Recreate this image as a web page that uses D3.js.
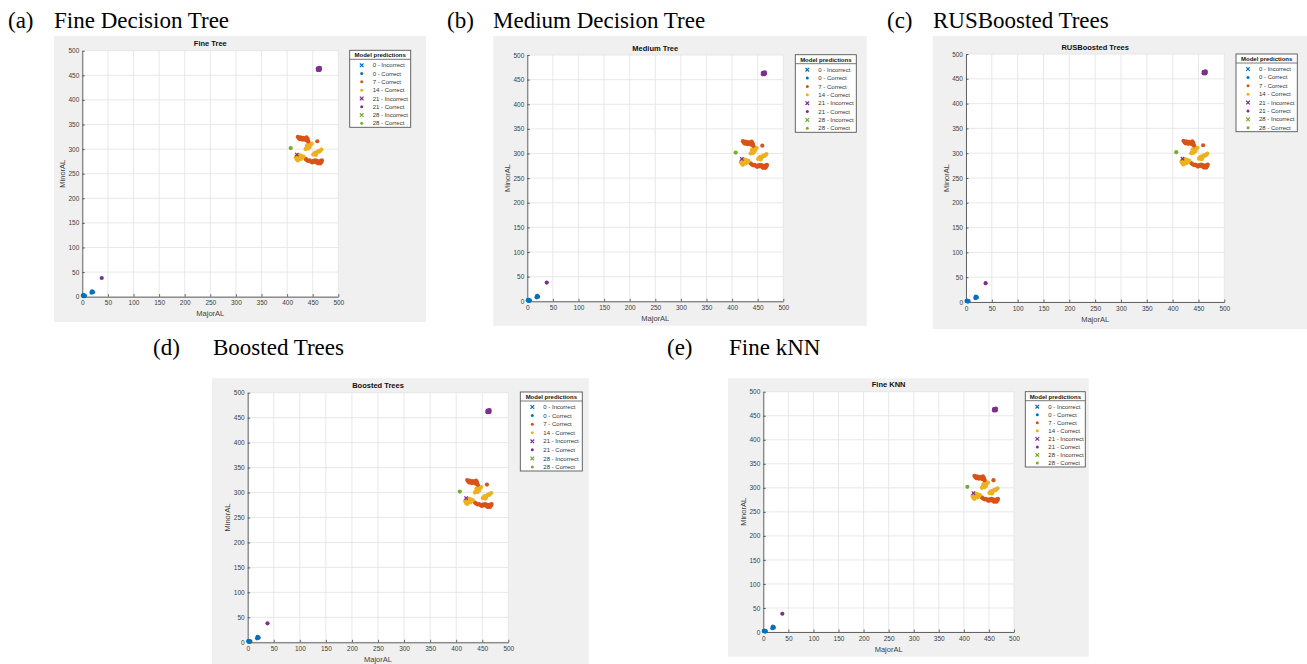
<!DOCTYPE html>
<html>
<head>
<meta charset="utf-8">
<script src="https://cdn.jsdelivr.net/npm/d3@7"></script>
<style>
  body { margin: 0; background: #fff; }
  svg { display: block; }
</style>
</head>
<body>
<svg id="fig" width="1307" height="664"></svg>
<script>
// ---- data ----
var tickValues = [0, 50, 100, 150, 200, 250, 300, 350, 400, 450, 500]
var xLabel = "MajorAL",
    yLabel = "MinorAL"

var classNames = ["0 - Incorrect", "0 - Correct", "7 - Correct", "14 - Correct",
                  "21 - Incorrect", "21 - Correct", "28 - Incorrect", "28 - Correct"]
var classColors = ["#0072BD", "#0072BD", "#D95319", "#EDB120",
                   "#7E2F8E", "#7E2F8E", "#77AC30", "#77AC30"]
var classMarkers = ["x", "o", "o", "o", "x", "o", "x", "o"]

// [MajorAL, MinorAL]
var pts0Incorrect = [[2, 2]]
var pts0Correct = [[1, 2], [3, 1], [5, 2], [2, 3], [4, 1], [18, 8], [20, 10], [21, 9], [19, 11]]
var pts7Correct = [
    [421, 325], [423, 322], [425, 320], [426, 324], [428, 321], [430, 319], [431, 323],
    [433, 320], [435, 322], [437, 318], [438, 324], [440, 321], [441, 317], [442, 314],
    [459, 316],
    [436, 280], [438, 278], [441, 276], [444, 277], [446, 275], [449, 273], [451, 276],
    [453, 274], [455, 277], [457, 275], [459, 272], [461, 271], [463, 273], [465, 271],
    [467, 274], [468, 277], [466, 276], [462, 275], [458, 276]
]
var pts14Correct = [
    [417, 283], [419, 279], [420, 286], [422, 281], [423, 288], [425, 284], [427, 280],
    [428, 286], [430, 283], [432, 285], [421, 277], [426, 287],
    [436, 300], [438, 303], [440, 305], [441, 301], [443, 307], [444, 304], [446, 309],
    [448, 311], [439, 308],
    [451, 289], [453, 291], [455, 293], [457, 290], [459, 294], [461, 296], [463, 295],
    [465, 297], [467, 299], [456, 288]
]
var pts21Incorrect = [[419, 289], [462, 462], [463, 463]]
var pts21Correct = [[38, 38], [460, 461], [461, 463], [463, 461], [462, 464], [464, 462], [460, 464], [464, 465]]
var pts28Incorrect = []
var pts28Correct = [[407, 302]]
var classPoints = [pts0Incorrect, pts0Correct, pts7Correct, pts14Correct,
                   pts21Incorrect, pts21Correct, pts28Incorrect, pts28Correct]

var panelLetters = ["(a)", "(b)", "(c)", "(d)", "(e)"]
var panelHeadings = ["Fine Decision Tree", "Medium Decision Tree", "RUSBoosted Trees", "Boosted Trees", "Fine kNN"]
var panelTitles = ["Fine Tree", "Medium Tree", "RUSBoosted Trees", "Boosted Trees", "Fine KNN"]

// ---- layout (pixels) ----
var layout = [
    { bg: [54, 36, 426, 322], x: [82.3, 338.3], y: [296.7, 50.7], leg: [349.7, 50.3, 410.7, 127.3], head: [8, 54, 28] },
    { bg: [493.3, 36, 866.7, 325.7], x: [527.3, 783.3], y: [301.3, 55], leg: [795.3, 54.7, 856.3, 132.3], head: [447, 493, 28] },
    { bg: [932.7, 36, 1307, 329], x: [966, 1224.3], y: [302, 54], leg: [1236, 54, 1297.3, 131.7], head: [887, 933, 28] },
    { bg: [212, 378.3, 588.7, 664], x: [247.7, 508.3], y: [642.3, 392.7], leg: [520.3, 392, 582.3, 471], head: [153, 213, 355] },
    { bg: [728, 378.3, 1088.7, 656.7], x: [763.3, 1014], y: [632, 391.7], leg: [1025.3, 391.7, 1085.3, 467], head: [667, 729, 355] }
]

var svg = d3.select("#fig")
var sans = "'Liberation Sans', Arial, sans-serif"
var serif = "'Liberation Serif', 'Times New Roman', serif"
var axisColor = "#404040"

function drawMarker(g, type, cx, cy, color, s) {
    if (type == "x") {
        g.append("path")
            .attr("d", "M" + (cx - s) + "," + (cy - s) + "L" + (cx + s) + "," + (cy + s) +
                       "M" + (cx - s) + "," + (cy + s) + "L" + (cx + s) + "," + (cy - s))
            .attr("stroke", color).attr("stroke-width", 1.2).attr("fill", "none")
    } else {
        g.append("circle").attr("cx", cx).attr("cy", cy).attr("r", s)
            .attr("fill", color)
    }
}

function drawPanel(i) {
    var L = layout[i]
    var g = svg.append("g")

    // heading
    g.append("text").attr("x", L.head[0]).attr("y", L.head[2])
        .attr("font-family", serif).attr("font-size", 23).attr("fill", "#000")
        .text(panelLetters[i])
    g.append("text").attr("x", L.head[1]).attr("y", L.head[2])
        .attr("font-family", serif).attr("font-size", 23).attr("fill", "#000")
        .text(panelHeadings[i])

    // grey figure background
    g.append("rect")
        .attr("x", L.bg[0]).attr("y", L.bg[1])
        .attr("width", L.bg[2] - L.bg[0]).attr("height", L.bg[3] - L.bg[1])
        .attr("fill", "#f0f0f0")

    var x = d3.scaleLinear().domain([0, 500]).range(L.x)
    var y = d3.scaleLinear().domain([0, 500]).range(L.y)

    g.append("rect")
        .attr("x", L.x[0]).attr("y", L.y[1])
        .attr("width", L.x[1] - L.x[0]).attr("height", L.y[0] - L.y[1])
        .attr("fill", "#fff")

    // grid
    g.selectAll(".gx").data(tickValues).enter().append("line")
        .attr("x1", function(d) { return x(d) }).attr("x2", function(d) { return x(d) })
        .attr("y1", L.y[0]).attr("y2", L.y[1])
        .attr("stroke", "#e2e2e2").attr("stroke-width", 0.8)
    g.selectAll(".gy").data(tickValues).enter().append("line")
        .attr("y1", function(d) { return y(d) }).attr("y2", function(d) { return y(d) })
        .attr("x1", L.x[0]).attr("x2", L.x[1])
        .attr("stroke", "#e2e2e2").attr("stroke-width", 0.8)

    // axes
    var xa = g.append("g").attr("transform", "translate(0," + L.y[0] + ")")
        .call(d3.axisBottom(x).tickValues(tickValues).tickSizeInner(-2.5).tickSizeOuter(0).tickPadding(4))
    var ya = g.append("g").attr("transform", "translate(" + L.x[0] + ",0)")
        .call(d3.axisLeft(y).tickValues(tickValues).tickSizeInner(-2.5).tickSizeOuter(0).tickPadding(3))
    ;[xa, ya].forEach(function(a) {
        a.selectAll("path").attr("stroke", axisColor).attr("stroke-width", 0.8)
        a.selectAll("line").attr("stroke", axisColor).attr("stroke-width", 0.8)
        a.selectAll("text").attr("font-family", sans).attr("font-size", 6.5).attr("fill", axisColor)
    })

    // labels and title
    var xm = (L.x[0] + L.x[1]) / 2,
        ym = (L.y[0] + L.y[1]) / 2
    g.append("text").attr("x", xm).attr("y", L.y[0] + 17).attr("dy", "0.35em")
        .attr("text-anchor", "middle").attr("font-family", sans).attr("font-size", 7.5)
        .attr("fill", axisColor).text(xLabel)
    g.append("text").attr("transform", "translate(" + (L.x[0] - 20) + "," + ym + ") rotate(-90)")
        .attr("dy", "0.35em").attr("text-anchor", "middle").attr("font-family", sans)
        .attr("font-size", 7.5).attr("fill", axisColor).text(yLabel)
    g.append("text").attr("x", xm).attr("y", L.y[1] - 7).attr("dy", "0.35em")
        .attr("text-anchor", "middle").attr("font-family", sans).attr("font-size", 7.5)
        .attr("font-weight", "bold").attr("fill", "#111").text(panelTitles[i])

    // points
    var pg = g.append("g")
    classPoints.forEach(function(pts, c) {
        pts.forEach(function(p) {
            drawMarker(pg, classMarkers[c], x(p[0]), y(p[1]), classColors[c], classMarkers[c] == "x" ? 1.7 : 2.1)
        })
    })

    // legend
    var lx0 = L.leg[0], ly0 = L.leg[1], lx1 = L.leg[2], ly1 = L.leg[3]
    g.append("rect").attr("x", lx0).attr("y", ly0).attr("width", lx1 - lx0).attr("height", ly1 - ly0)
        .attr("fill", "#fff").attr("stroke", "#555").attr("stroke-width", 0.9)
    g.append("text").attr("x", (lx0 + lx1) / 2).attr("y", ly0 + 5).attr("dy", "0.35em")
        .attr("text-anchor", "middle").attr("font-family", sans).attr("font-size", 6)
        .attr("font-weight", "bold").attr("fill", "#111").text("Model predictions")
    g.append("line").attr("x1", lx0).attr("x2", lx1).attr("y1", ly0 + 9).attr("y2", ly0 + 9)
        .attr("stroke", "#555").attr("stroke-width", 0.8)
    var step = (ly1 - ly0 - 19) / 7
    classNames.forEach(function(name, c) {
        var yy = ly0 + 15 + c * step
        drawMarker(g, classMarkers[c], lx0 + 12, yy, classColors[c], classMarkers[c] == "x" ? 1.8 : 1.5)
        g.append("text").attr("x", lx0 + 23).attr("y", yy).attr("dy", "0.35em")
            .attr("font-family", sans).attr("font-size", 6).attr("fill", "#333").text(name)
    })
}

for (var i = 0; i < layout.length; i++) {
    drawPanel(i)
}
</script>
</body>
</html>
